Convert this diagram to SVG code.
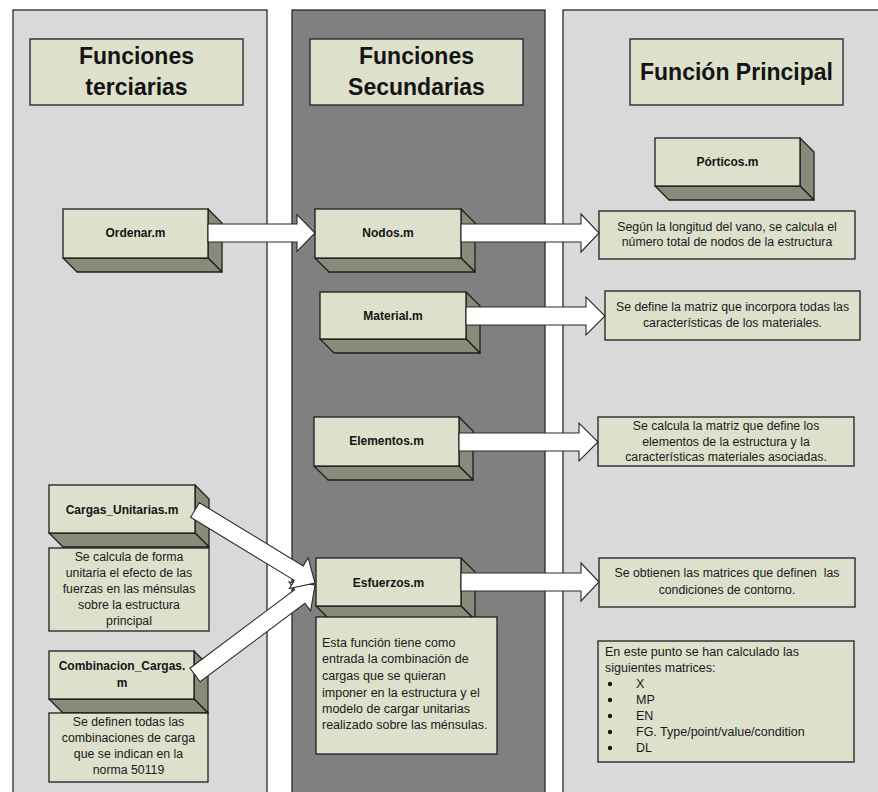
<svg xmlns="http://www.w3.org/2000/svg" width="878" height="792" viewBox="0 0 878 792">
<style>
.pl{fill:#d9d9d9;stroke:#2a2a2a;stroke-width:1.3}
.pm{fill:#808080;stroke:#2a2a2a;stroke-width:1.3}
.face{fill:#dde0cb;stroke:#1e1e1e;stroke-width:1.3}
.side{fill:#878b79;stroke:#1e1e1e;stroke-width:1.3;stroke-linejoin:round}
.hdr{font-family:"Liberation Sans",Arial,sans-serif;font-weight:bold;font-size:23px;fill:#141414;text-anchor:middle}
.lbl{font-family:"Liberation Sans",Arial,sans-serif;font-weight:bold;font-size:12px;fill:#141414;text-anchor:middle}
.desc{font-family:"Liberation Sans",Arial,sans-serif;font-size:12.3px;fill:#1a1a1a;text-anchor:middle}
.descl{font-family:"Liberation Sans",Arial,sans-serif;font-size:12.5px;fill:#1a1a1a}
.arrow{fill:#ffffff;stroke:#2a2a2a;stroke-width:1.1;stroke-linejoin:miter}
</style>
<rect width="878" height="792" fill="#ffffff"/>
<g id="panels">
<rect class="pl" x="13" y="10" width="254" height="800"/>
<rect class="pm" x="292" y="10" width="253" height="800"/>
<rect class="pl" x="563" y="10" width="330" height="800"/>
</g>
<g id="header-terciarias">
<rect class="face" x="30" y="39" width="213" height="66"/>
<text class="hdr" x="136.5" y="64">Funciones</text>
<text class="hdr" x="136.5" y="95">terciarias</text>
</g>
<g id="header-secundarias">
<rect class="face" x="310" y="39" width="213" height="66"/>
<text class="hdr" x="416.5" y="64">Funciones</text>
<text class="hdr" x="416.5" y="95">Secundarias</text>
</g>
<g id="header-principal">
<rect class="face" x="630" y="39" width="213" height="66"/>
<text class="hdr" x="736.5" y="80">Función Principal</text>
</g>
<g id="ordenar">
<polygon class="side" points="208,209 222,223 222,272 208,258"/>
<polygon class="side" points="63,258 208,258 222,272 77,272"/>
<rect class="face" x="63" y="209" width="145" height="49"/>
<text class="lbl" x="135.5" y="237">Ordenar.m</text>
</g>
<g id="nodos">
<polygon class="side" points="461,209 475,223 475,272 461,258"/>
<polygon class="side" points="315,258 461,258 475,272 329,272"/>
<rect class="face" x="315" y="209" width="146" height="49"/>
<text class="lbl" x="388" y="237">Nodos.m</text>
</g>
<g id="porticos">
<polygon class="side" points="800,138 814,152 814,200 800,186"/>
<polygon class="side" points="655,186 800,186 814,200 669,200"/>
<rect class="face" x="655" y="138" width="145" height="48"/>
<text class="lbl" x="727.5" y="166">Pórticos.m</text>
</g>
<g id="material">
<polygon class="side" points="466,292 480,306 480,353 466,339"/>
<polygon class="side" points="320,339 466,339 480,353 334,353"/>
<rect class="face" x="320" y="292" width="146" height="47"/>
<text class="lbl" x="393" y="320">Material.m</text>
</g>
<g id="elementos">
<polygon class="side" points="459,417 473,431 473,480 459,466"/>
<polygon class="side" points="314,466 459,466 473,480 328,480"/>
<rect class="face" x="314" y="417" width="145" height="49"/>
<text class="lbl" x="386.5" y="445">Elementos.m</text>
</g>
<g id="esfuerzos">
<polygon class="side" points="461,558 475,572 475,620 461,606"/>
<polygon class="side" points="316,606 461,606 475,620 330,620"/>
<rect class="face" x="316" y="558" width="145" height="48"/>
<text class="lbl" x="388.5" y="587">Esfuerzos.m</text>
</g>
<g id="esfuerzos-desc">
<rect class="face" x="316" y="617" width="181" height="137"/>
<text class="descl" x="322" y="647" font-size="13.5">Esta función tiene como</text>
<text class="descl" x="322" y="663" font-size="13.5">entrada la combinación de</text>
<text class="descl" x="322" y="680" font-size="13.5">cargas que se quieran</text>
<text class="descl" x="322" y="697" font-size="13.5">imponer en la estructura y el</text>
<text class="descl" x="322" y="713" font-size="13.5">modelo de cargar unitarias</text>
<text class="descl" x="322" y="729" font-size="13.5">realizado sobre las ménsulas.</text>
</g>
<g id="cargas-unitarias">
<polygon class="side" points="195,485 209,499 209,547 195,533"/>
<polygon class="side" points="49,533 195,533 209,547 63,547"/>
<rect class="face" x="49" y="485" width="146" height="48"/>
<text class="lbl" x="122" y="514">Cargas_Unitarias.m</text>
</g>
<g id="cargas-unitarias-desc">
<rect class="face" x="49" y="548" width="160" height="83"/>
<text class="desc" x="129" y="561" font-size="12.5">Se calcula de forma</text>
<text class="desc" x="129" y="577" font-size="12.5">unitaria el efecto de las</text>
<text class="desc" x="129" y="593" font-size="12.5">fuerzas en las ménsulas</text>
<text class="desc" x="129" y="609" font-size="12.5">sobre la estructura</text>
<text class="desc" x="129" y="625" font-size="12.5">principal</text>
</g>
<g id="combinacion-cargas">
<polygon class="side" points="194,651 208,665 208,713 194,699"/>
<polygon class="side" points="49,699 194,699 208,713 63,713"/>
<rect class="face" x="49" y="651" width="145" height="48"/>
<text class="lbl" x="122" y="670">Combinacion_Cargas.</text>
<text class="lbl" x="122" y="687">m</text>
</g>
<g id="combinacion-cargas-desc">
<rect class="face" x="49" y="713" width="159" height="69"/>
<text class="desc" x="128.5" y="726" font-size="12.5">Se definen todas las</text>
<text class="desc" x="128.5" y="742" font-size="12.5">combinaciones de carga</text>
<text class="desc" x="128.5" y="758" font-size="12.5">que se indican en la</text>
<text class="desc" x="128.5" y="774" font-size="12.5">norma 50119</text>
</g>
<g id="nodos-desc">
<rect class="face" x="599" y="211" width="256" height="48"/>
<text class="desc" x="727" y="231">Según la longitud del vano, se calcula el</text>
<text class="desc" x="727" y="246">número total de nodos de la estructura</text>
</g>
<g id="material-desc">
<rect class="face" x="605" y="291" width="255" height="49"/>
<text class="desc" x="732.5" y="311">Se define la matriz que incorpora todas las</text>
<text class="desc" x="732.5" y="327">características de los materiales.</text>
</g>
<g id="elementos-desc">
<rect class="face" x="598" y="417" width="256" height="49"/>
<text class="desc" x="726" y="430">Se calcula la matriz que define los</text>
<text class="desc" x="726" y="446">elementos de la estructura y la</text>
<text class="desc" x="726" y="461">características materiales asociadas.</text>
</g>
<g id="esfuerzos-result">
<rect class="face" x="599" y="558" width="256" height="49"/>
<text class="desc" x="727" y="577" xml:space="preserve">Se obtienen las matrices que definen  las</text>
<text class="desc" x="727" y="594">condiciones de contorno.</text>
</g>
<g id="matrices">
<rect class="face" x="598" y="641" width="256" height="121"/>
<text class="descl" x="605" y="656">En este punto se han calculado las</text>
<text class="descl" x="605" y="672">siguientes matrices:</text>
<circle cx="610" cy="684" r="2.2" fill="#1a1a1a"/>
<circle cx="610" cy="700" r="2.2" fill="#1a1a1a"/>
<circle cx="610" cy="716" r="2.2" fill="#1a1a1a"/>
<circle cx="610" cy="732" r="2.2" fill="#1a1a1a"/>
<circle cx="610" cy="748" r="2.2" fill="#1a1a1a"/>
<text class="descl" x="636" y="688">X</text>
<text class="descl" x="636" y="704">MP</text>
<text class="descl" x="636" y="720">EN</text>
<text class="descl" x="636" y="736">FG. Type/point/value/condition</text>
<text class="descl" x="636" y="752">DL</text>
</g>
<g id="connectors">
<polygon class="arrow" points="208,224 297,224 297,214.5 315,233 297,251.5 297,242 208,242"/>
<polygon class="arrow" points="461,224 581,224 581,214 599,233 581,252 581,242 461,242"/>
<polygon class="arrow" points="466,307 586,307 586,297 605,316 586,335 586,325 466,325"/>
<polygon class="arrow" points="459,433 579,433 579,423 598,442 579,461 579,451 459,451"/>
<polygon class="arrow" points="461,573 581,573 581,563 599,582 581,601 581,591 461,591"/>
<polygon class="arrow" points="189.9,668.2 294.7,589.6 289,582 315,585 310.6,610.8 304.9,603.2 200.1,681.8"/>
<polygon class="arrow" points="199.4,502.7 303.2,565.9 308.1,557.7 315,583 289.4,588.5 294.3,580.4 190.6,517.3"/>
</g>
</svg>
